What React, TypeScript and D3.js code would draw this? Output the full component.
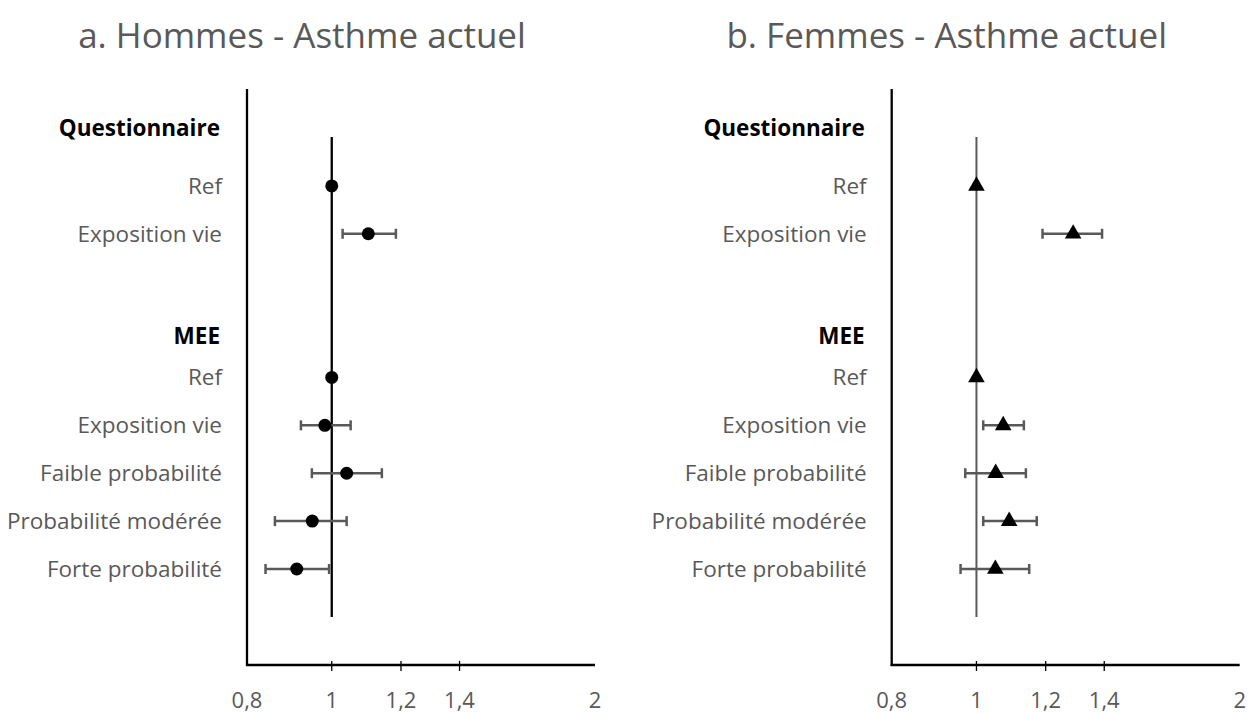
import React from "react";
import * as d3 from "d3";

const rowLabels = [
  "Questionnaire",
  "Ref",
  "Exposition vie",
  "",
  "MEE",
  "Ref",
  "Exposition vie",
  "Faible probabilité",
  "Probabilité modérée",
  "Forte probabilité",
];
const headerRows = [0, 4];
const headerRowPos = [-0.2, 4.13];

const menOR = [null, 1, 1.101, null, null, 1, 0.982, 1.04, 0.95, 0.912];
const menLow = [null, null, 1.029, null, null, null, 0.922, 0.949, 0.861, 0.84];
const menHigh = [null, null, 1.184, null, null, null, 1.051, 1.141, 1.04, 0.993];

const womenOR = [null, 1, 1.29, null, null, 1, 1.073, 1.052, 1.09, 1.051];
const womenLow = [null, null, 1.19, null, null, null, 1.018, 0.971, 1.018, 0.959];
const womenHigh = [null, null, 1.392, null, null, null, 1.133, 1.139, 1.172, 1.149];

const xTickValues = [0.8, 1, 1.2, 1.4, 2];
const xTickMarks = [1, 1.2, 1.4];
const refLineRows = [0, 10];

const titles = ["a. Hommes - Asthme actuel", "b. Femmes - Asthme actuel"];

const FONT = "'Open Sans', 'Noto Sans', sans-serif";
const GRAY = "#595959";

type PanelProps = {
  ox: number;
  title: string;
  or: (number | null)[];
  low: (number | null)[];
  high: (number | null)[];
  marker: "circle" | "triangle";
  refColor: string;
  refWidth: number;
};

function Panel({ ox, title, or, low, high, marker, refColor, refWidth }: PanelProps) {
  const x = d3.scaleLog().domain([0.8, 2]).range([ox + 247, ox + 595]);
  const y = d3.scaleLinear().domain([0, 9]).range([138, 569]);
  const axisY = 665;
  const axisTop = 89;
  const labelX = ox + 222;
  const tri = d3.symbol().type(d3.symbolTriangle).size(120)();
  const fmt = (v: number) => String(v).replace(".", ",");

  return (
    <g>
      <text x={ox + 302} y={48} textAnchor="middle" fontFamily={FONT} fontSize={35} fill={GRAY}>
        {title}
      </text>

      {/* axes */}
      <line x1={x(0.8)} x2={x(0.8)} y1={axisTop} y2={axisY + 1} stroke="#000" strokeWidth={2.3} />
      <line x1={x(0.8) - 1} x2={x(2)} y1={axisY} y2={axisY} stroke="#000" strokeWidth={2.3} />
      {xTickMarks.map((t) => (
        <line key={"tm" + t} x1={x(t)} x2={x(t)} y1={axisY - 4} y2={axisY + 6} stroke="#000" strokeWidth={1.3} />
      ))}
      {xTickValues.map((t) => (
        <text key={"tl" + t} x={x(t)} y={707.5} textAnchor="middle" fontFamily={FONT} fontSize={22} fill={GRAY}>
          {fmt(t)}
        </text>
      ))}

      {/* reference line */}
      <line x1={x(1)} x2={x(1)} y1={y(refLineRows[0]) - 1} y2={y(refLineRows[1])} stroke={refColor} strokeWidth={refWidth} />

      {/* labels */}
      {rowLabels.map((lab, i) => {
        const hi = headerRows.indexOf(i);
        const isHeader = hi >= 0;
        if (!lab) return null;
        return (
          <text
            key={"lab" + i}
            x={labelX - (isHeader ? 2 : 0)}
            y={(isHeader ? y(headerRowPos[hi]) : y(i)) + 7.8}
            textAnchor="end"
            fontFamily={FONT}
            fontSize={22.5}
            fontWeight={isHeader ? 700 : 400}
            fill={isHeader ? "#000" : GRAY}
          >
            {lab}
          </text>
        );
      })}

      {/* error bars */}
      {or.map((v, i) => {
        const l = low[i];
        const h = high[i];
        if (v == null || l == null || h == null) return null;
        const yy = y(i);
        return (
          <g key={"eb" + i} stroke={GRAY} strokeWidth={2.5}>
            <line x1={x(l)} x2={x(h)} y1={yy} y2={yy} />
            <line x1={x(l)} x2={x(l)} y1={yy - 5} y2={yy + 5} />
            <line x1={x(h)} x2={x(h)} y1={yy - 5} y2={yy + 5} />
          </g>
        );
      })}

      {/* markers */}
      {or.map((v, i) => {
        if (v == null) return null;
        const yy = y(i);
        return marker === "circle" ? (
          <circle key={"m" + i} cx={x(v)} cy={yy} r={6.5} fill="#000" />
        ) : (
          <path key={"m" + i} d={tri || ""} transform={`translate(${x(v)},${yy})`} fill="#000" />
        );
      })}
    </g>
  );
}

export default function App() {
  return (
    <svg width={1249} height={713} style={{ position: "absolute", left: 0, top: 0, background: "#fff" }}>
      <rect width={1249} height={713} fill="#fff" />
      <Panel ox={0} title={titles[0]} or={menOR} low={menLow} high={menHigh} marker="circle" refColor="#000" refWidth={2.3} />
      <Panel ox={644.7} title={titles[1]} or={womenOR} low={womenLow} high={womenHigh} marker="triangle" refColor={GRAY} refWidth={2} />
    </svg>
  );
}
